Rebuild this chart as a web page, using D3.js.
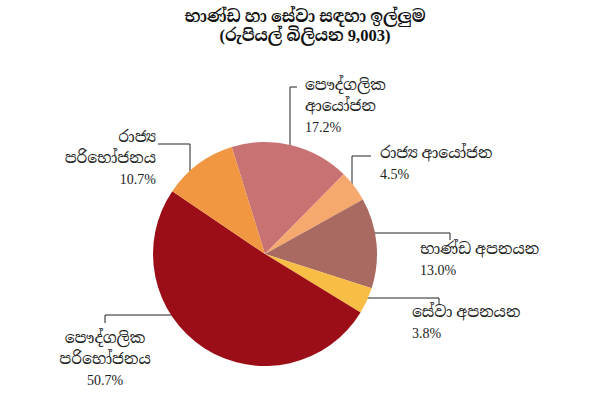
<!DOCTYPE html>
<html>
<head>
<meta charset="utf-8">
<script src="https://cdn.jsdelivr.net/npm/d3@7"></script>
<style>
  body { margin: 0; background: #fff; }
  svg text { font-family: "Liberation Serif", "Noto Serif Sinhala", "Noto Sans Sinhala", serif; }
</style>
</head>
<body>
<svg id="chart" width="610" height="403"></svg>
<script>
// Demand for goods and services - pie
const categories = [
  ['පෞද්ගලික', 'ආයෝජන'],
  ['රාජ්‍ය ආයෝජන'],
  ['භාණ්ඩ අපනයන'],
  ['සේවා අපනයන'],
  ['පෞද්ගලික', 'පරිභෝජනය'],
  ['රාජ්‍ය', 'පරිභෝජනය']
];
const shares = [17.2, 4.5, 13.0, 3.8, 50.7, 10.7];
const colors = ['#c97274', '#f5a96e', '#a96b61', '#f8bd45', '#9c0e17', '#f19742'];
const titleLines = ['භාණ්ඩ හා සේවා සඳහා ඉල්ලුම', '(රුපියල් බිලියන 9,003)'];

const svg = d3.select('#chart');
const cx = 265, cy = 254, r = 112;

// label layout: text anchor point, alignment, leader elbow
// kind 'v' = leader drops vertically into pie at x, 'h' = runs horizontally into pie at y
const layout = [
  { tx: 305, ty: 90, anchor: 'start', kind: 'v', lx: 290, ly: 87, hx: 297 },
  { tx: 380, ty: 158, anchor: 'start', kind: 'v', lx: 352, ly: 156, hx: 371 },
  { tx: 420, ty: 254, anchor: 'start', kind: 'h', lx: 450, ly: 233, dy: 240 },
  { tx: 412, ty: 317, anchor: 'start', kind: 'h', lx: 439, ly: 298, dy: 305 },
  { tx: 105, ty: 343, anchor: 'middle', kind: 'h', lx: 105, ly: 315, dy: 323 },
  { tx: 156, ty: 142, anchor: 'end', kind: 'v', lx: 190, ly: 144, hx: 158 }
];

// title
svg.append('g').selectAll('text')
  .data(titleLines)
  .join('text')
  .attr('x', 305)
  .attr('y', (d, i) => 22 + i * 19)
  .attr('text-anchor', 'middle')
  .attr('font-size', 16.5)
  .attr('font-weight', 'bold')
  .attr('fill', '#111')
  .text(d => d);

const pie = d3.pie().sort(null).value(d => d)
  .startAngle(-17.3 * Math.PI / 180)
  .endAngle(-17.3 * Math.PI / 180 + 2 * Math.PI);
const arc = d3.arc().innerRadius(0).outerRadius(r);
const arcs = pie(shares);

// leader lines
const leaders = svg.append('g');
layout.forEach((l, i) => {
  let pts;
  if (l.kind === 'v') {
    const ey = cy - Math.sqrt(r * r - (l.lx - cx) ** 2) + 2;
    pts = [[l.hx, l.ly], [l.lx, l.ly], [l.lx, ey]];
  } else {
    const side = l.lx > cx ? 1 : -1;
    const ex = cx + side * (Math.sqrt(r * r - (l.ly - cy) ** 2) - 2);
    pts = [[l.lx, l.dy], [l.lx, l.ly], [ex, l.ly]];
  }
  leaders.append('path')
    .attr('d', d3.line()(pts))
    .attr('fill', 'none')
    .attr('stroke', '#222')
    .attr('stroke-width', 1);
});

// slices
svg.append('g')
  .attr('transform', `translate(${cx},${cy})`)
  .selectAll('path')
  .data(arcs)
  .join('path')
  .attr('d', arc)
  .attr('fill', (d, i) => colors[i]);

// labels
const labels = svg.append('g');
layout.forEach((l, i) => {
  const lines = categories[i].concat([shares[i].toFixed(1) + '%']);
  const t = labels.append('text')
    .attr('x', l.tx)
    .attr('y', l.ty)
    .attr('text-anchor', l.anchor)
    .attr('fill', '#222');
  lines.forEach((s, j) => {
    t.append('tspan')
      .attr('x', l.tx)
      .attr('dy', j === 0 ? 0 : 21)
      .attr('font-size', j === lines.length - 1 ? 14 : 15.5)
      .text(s);
  });
});
</script>
</body>
</html>
